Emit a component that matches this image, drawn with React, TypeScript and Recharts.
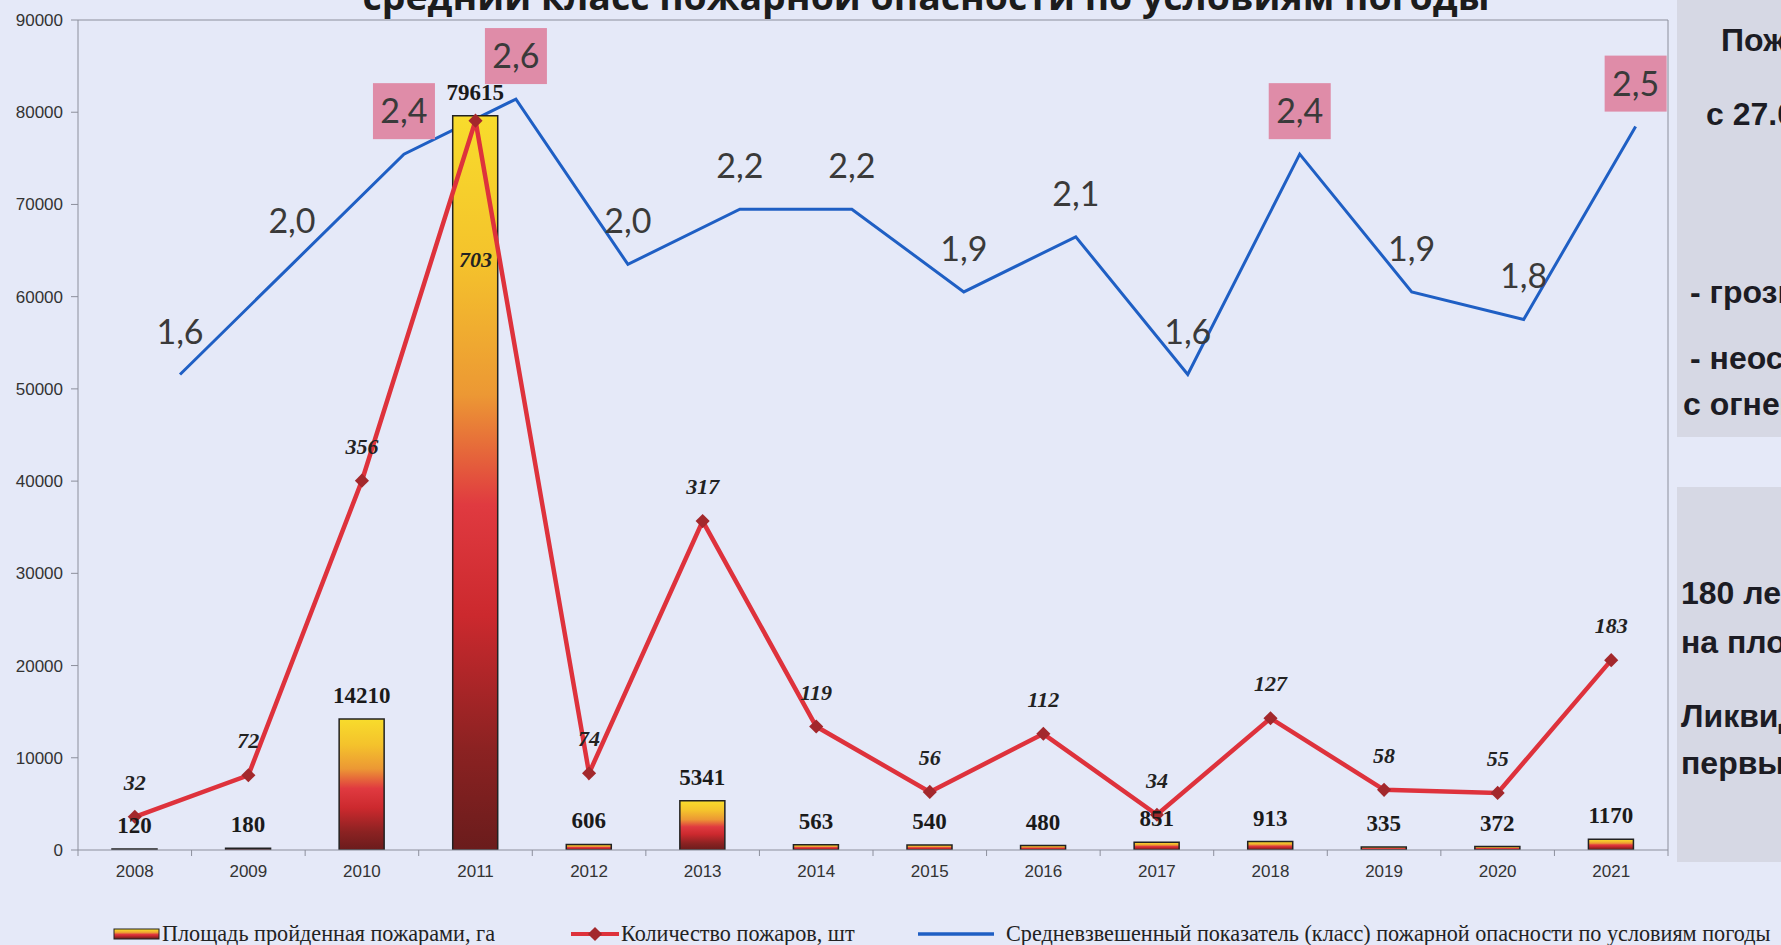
import React from 'react';
import { ComposedChart, Bar, Line, XAxis, YAxis, ReferenceLine, LabelList } from 'recharts';

// ---------- data ----------
const years = ['2008', '2009', '2010', '2011', '2012', '2013', '2014', '2015', '2016', '2017', '2018', '2019', '2020', '2021'];
const burnedArea = [120, 180, 14210, 79615, 606, 5341, 563, 540, 480, 851, 913, 335, 372, 1170];
const fireCount = [32, 72, 356, 703, 74, 317, 119, 56, 112, 34, 127, 58, 55, 183];
const dangerClass = [1.6, 2.0, 2.4, 2.6, 2.0, 2.2, 2.2, 1.9, 2.1, 1.6, 2.4, 1.9, 1.8, 2.5];
const areaTicks = [0, 10000, 20000, 30000, 40000, 50000, 60000, 70000, 80000, 90000];
const countTicks = [0, 100, 200, 300, 400, 500, 600, 700, 800];

const titleText = 'средний класс пожарной опасности по условиям погоды';
const legendArea = 'Площадь пройденная пожарами, га';
const legendCount = 'Количество пожаров, шт';
const legendDanger = 'Средневзвешенный показатель (класс) пожарной опасности по условиям погоды';
const panelTopLines = ['Пожароопасный сезон', 'с 27.04.2021', '- грозы', '- неосторожное обращение', 'с огнем'];
const panelBottomLines = ['180 лесных пожаров', 'на площади 1170 га', 'Ликвидировано в', 'первые сутки'];

const data = years.map((year, i) => ({
  year,
  idx: i,
  area: burnedArea[i],
  count: fireCount[i],
  danger: dangerClass[i],
}));

// ---------- layout ----------
const W = 1781;
const H = 945;
const PLOT_LEFT = 78;
const PLOT_RIGHT = 1668;
const PLOT_TOP = 20;
const PLOT_BOTTOM = 850;
const RIGHT_AXIS_W = 10;
const X_AXIS_H = 30;
const BAND = (PLOT_RIGHT - PLOT_LEFT) / years.length;

const BG = '#e5e9f8';
const AXIS = '#8c8f9c';
const RED = '#de323c';
const BLUE = '#1f5fc4';
const PINK = '#df8ca8';
const PANEL = '#d6d8e4';

const XTick = (props: any) => {
  const { x, payload, index } = props;
  const half = BAND / 2;
  return (
    <g>
      <line x1={x - half} x2={x - half} y1={PLOT_BOTTOM} y2={PLOT_BOTTOM + 6} stroke={AXIS} />
      {index === years.length - 1 && (
        <line x1={x + half} x2={x + half} y1={PLOT_BOTTOM} y2={PLOT_BOTTOM + 6} stroke={AXIS} />
      )}
      <text
        x={x}
        y={PLOT_BOTTOM + 27}
        textAnchor="middle"
        fontSize={17}
        fill="#333"
        fontFamily="'Liberation Sans', Arial, sans-serif"
      >
        {payload.value}
      </text>
    </g>
  );
};

const BarLabel = (props: any) => {
  const x = Number(props.x);
  const y = Number(props.y);
  const w = Number(props.width);
  return (
    <text
      x={x + w / 2}
      y={y - 16}
      textAnchor="middle"
      fontFamily="'Liberation Serif', 'Times New Roman', serif"
      fontWeight="bold"
      fontSize={23}
      fill="#1a1a1a"
    >
      {props.value}
    </text>
  );
};

const CountLabel = (props: any) => {
  const x = Number(props.x);
  const y = Number(props.y);
  const v = Number(props.value);
  const inside = v > 600;
  return (
    <text
      x={x}
      y={inside ? y + 146 : y - 27}
      textAnchor="middle"
      fontFamily="'Liberation Serif', 'Times New Roman', serif"
      fontWeight="bold"
      fontStyle="italic"
      fontSize={22}
      fill="#222"
    >
      {v}
    </text>
  );
};

const DangerLabel = (props: any) => {
  const x = Number(props.x);
  const y = Number(props.y);
  const v = Number(props.value);
  const cx = x;
  const cy = y - 43;
  const txt = v.toFixed(1).replace('.', ',');
  return (
    <g>
      {v >= 2.4 && <rect x={cx - 31} y={cy - 28} width={62} height={56} fill={PINK} />}
      <text
        x={cx}
        y={cy + 12}
        textAnchor="middle"
        fontFamily="Lato, 'Open Sans', sans-serif"
        fontSize={34}
        fill="#3a3a3a"
      >
        {txt}
      </text>
    </g>
  );
};

const Diamond = (props: any) => {
  const { cx, cy, index } = props;
  if (cx == null || cy == null) return <g key={`d-${index}`} />;
  return (
    <rect
      key={`d-${index}`}
      x={cx - 5}
      y={cy - 5}
      width={10}
      height={10}
      fill="#a3282c"
      transform={`rotate(45 ${cx} ${cy})`}
    />
  );
};

const GradientDefs = ({ id }: { id: string }) => (
  <linearGradient id={id} x1="0" y1="0" x2="0" y2="1">
    <stop offset="0%" stopColor="#f8dc2c" />
    <stop offset="20%" stopColor="#f4c22c" />
    <stop offset="38%" stopColor="#ec9834" />
    <stop offset="53%" stopColor="#e03a40" />
    <stop offset="68%" stopColor="#cc292e" />
    <stop offset="86%" stopColor="#8c2222" />
    <stop offset="100%" stopColor="#6a1c1c" />
  </linearGradient>
);

const panelText: React.CSSProperties = {
  position: 'absolute',
  whiteSpace: 'nowrap',
  fontFamily: "'Liberation Sans', Arial, sans-serif",
  fontWeight: 'bold',
  fontSize: 32,
  lineHeight: '36px',
  color: '#1c1c24',
};

const legendText: React.CSSProperties = {
  position: 'absolute',
  whiteSpace: 'nowrap',
  fontFamily: "'Liberation Serif', 'Times New Roman', serif",
  fontSize: 22.2,
  lineHeight: '26px',
  color: '#222',
  top: 921,
};

const topPanelPos = [
  { left: 1721, top: 22 },
  { left: 1706, top: 96 },
  { left: 1690, top: 274 },
  { left: 1690, top: 340 },
  { left: 1683, top: 386 },
];
const bottomPanelPos = [
  { left: 1681, top: 575 },
  { left: 1681, top: 624 },
  { left: 1681, top: 698 },
  { left: 1681, top: 745 },
];

export default function App() {
  return (
    <div
      style={{
        position: 'absolute',
        left: 0,
        top: 0,
        width: W,
        height: H,
        overflow: 'hidden',
        background: BG,
      }}
    >
      <div style={{ position: 'absolute', left: 0, top: 0 }}>
        <ComposedChart
          width={W}
          height={H}
          data={data}
          margin={{
            top: PLOT_TOP,
            right: W - PLOT_RIGHT - RIGHT_AXIS_W,
            bottom: H - PLOT_BOTTOM - X_AXIS_H,
            left: 0,
          }}
        >
          <defs>
            <GradientDefs id="areaGrad" />
          </defs>
          <XAxis
            xAxisId="cat"
            dataKey="year"
            type="category"
            height={X_AXIS_H}
            interval={0}
            tickLine={false}
            tickMargin={10}
            axisLine={{ stroke: AXIS }}
            tick={<XTick />}
          />
          <XAxis
            xAxisId="dx"
            dataKey="idx"
            type="number"
            scale="linear"
            hide
            domain={[-0.911, 13.289]}
            allowDataOverflow
          />
          <YAxis
            yAxisId="area"
            orientation="left"
            width={PLOT_LEFT}
            domain={[0, 90000]}
            ticks={areaTicks}
            allowDataOverflow
            tickSize={7}
            tickMargin={8}
            axisLine={{ stroke: AXIS }}
            tickLine={{ stroke: AXIS }}
            tick={{ fontSize: 17, fill: '#333', fontFamily: "'Liberation Sans', Arial, sans-serif" }}
          />
          <YAxis
            yAxisId="count"
            orientation="right"
            width={RIGHT_AXIS_W}
            domain={[0, 800]}
            ticks={countTicks}
            allowDataOverflow
            tick={false}
            tickSize={5}
            axisLine={{ stroke: AXIS }}
            tickLine={{ stroke: AXIS }}
          />
          <YAxis
            yAxisId="danger"
            hide
            domain={[-0.126, 2.887]}
            allowDataOverflow
          />
          <ReferenceLine xAxisId="cat" yAxisId="area" y={90000} stroke={AXIS} />
          <Line
            xAxisId="dx"
            yAxisId="danger"
            dataKey="danger"
            type="linear"
            stroke={BLUE}
            strokeWidth={3}
            dot={false}
            isAnimationActive={false}
            zIndex={250}
          >
            <LabelList dataKey="danger" content={<DangerLabel />} />
          </Line>
          <Bar
            xAxisId="cat"
            yAxisId="area"
            dataKey="area"
            barSize={45}
            fill="url(#areaGrad)"
            stroke="#222"
            strokeWidth={1.5}
            isAnimationActive={false}
            zIndex={300}
          >
            <LabelList dataKey="area" content={<BarLabel />} />
          </Bar>
          <Line
            xAxisId="cat"
            yAxisId="count"
            dataKey="count"
            type="linear"
            stroke={RED}
            strokeWidth={4.5}
            dot={<Diamond />}
            activeDot={false}
            isAnimationActive={false}
            zIndex={400}
          >
            <LabelList dataKey="count" content={<CountLabel />} />
          </Line>
        </ComposedChart>
      </div>

      {/* title (cut off at top, as in the source) */}
      <svg
        width={W}
        height={40}
        style={{ position: 'absolute', left: 0, top: 0, pointerEvents: 'none' }}
      >
        <text
          x={926}
          y={10}
          textAnchor="middle"
          textLength={1127}
          lengthAdjust="spacingAndGlyphs"
          fontFamily="'Open Sans', sans-serif"
          fontWeight="bold"
          fontSize={36}
          fill="#1c1c1c"
        >
          {titleText}
        </text>
      </svg>

      {/* right info panels */}
      <div style={{ position: 'absolute', left: 1677, top: 0, width: 200, height: 437, background: PANEL }} />
      <div style={{ position: 'absolute', left: 1677, top: 487, width: 200, height: 375, background: PANEL }} />
      {panelTopLines.map((t, i) => (
        <div key={`pt-${i}`} style={{ ...panelText, left: topPanelPos[i].left, top: topPanelPos[i].top }}>
          {t}
        </div>
      ))}
      {panelBottomLines.map((t, i) => (
        <div key={`pb-${i}`} style={{ ...panelText, left: bottomPanelPos[i].left, top: bottomPanelPos[i].top }}>
          {t}
        </div>
      ))}

      {/* legend */}
      <svg width={W} height={30} style={{ position: 'absolute', left: 0, top: 919, pointerEvents: 'none' }}>
        <defs>
          <GradientDefs id="legendGrad" />
        </defs>
        <rect x={114} y={10} width={45} height={10} fill="url(#legendGrad)" stroke="#222" strokeWidth={1} />
        <line x1={571} x2={619} y1={15} y2={15} stroke={RED} strokeWidth={4} />
        <rect x={590} y={10} width={10} height={10} fill="#a3282c" transform="rotate(45 595 15)" />
        <line x1={918} x2={994} y1={15} y2={15} stroke={BLUE} strokeWidth={3.5} />
      </svg>
      <div style={{ ...legendText, left: 162 }}>{legendArea}</div>
      <div style={{ ...legendText, left: 621 }}>{legendCount}</div>
      <div style={{ ...legendText, left: 1006 }}>{legendDanger}</div>
    </div>
  );
}
